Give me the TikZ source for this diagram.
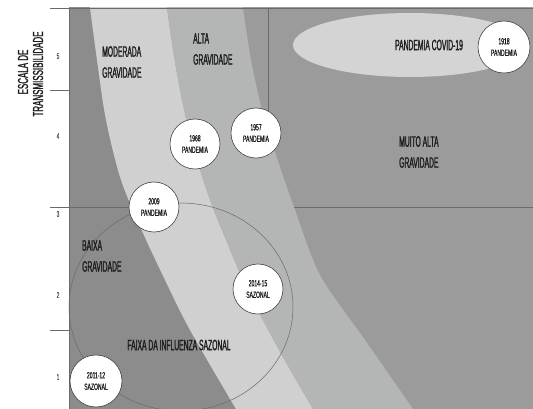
\documentclass[tikz,border=0pt]{standalone}
\usepackage{fontspec}
\newfontfamily\cf[FakeStretch=0.45,FakeBold=1.3]{Liberation Sans}
\newfontfamily\cfa[FakeStretch=0.55,FakeBold=1.2]{Liberation Sans}
\newfontfamily\cfs[FakeStretch=0.56,FakeBold=0.7]{Liberation Sans}
\usetikzlibrary{shapes.geometric}
\definecolor{dk}{HTML}{8C8C8C}
\definecolor{rt}{HTML}{9B9B9B}
\definecolor{lt}{HTML}{D0D0D0}
\definecolor{md}{HTML}{B4B5B5}
\definecolor{cv}{HTML}{D4D4D4}
\definecolor{ln}{HTML}{6A6A6A}
\definecolor{tx}{HTML}{1E1E1E}
\tikzset{
  ev/.style={circle, draw=black!75, line width=0.6pt, fill=white, minimum size=50pt, inner sep=0pt, align=center, text=tx, font=\cfs\fontsize{9}{11.5}\selectfont},
  lab/.style={text=tx, inner sep=0pt, align=left, font=\cf\fontsize{15}{21}\selectfont},
  tick/.style={text=black!65, inner sep=0pt, font=\cfs\fontsize{8.5}{10}\selectfont},
  axl/.style={draw=ln, line width=0.8pt},
}
\begin{document}
\begin{tikzpicture}[x=1pt,y=-1pt]
\useasboundingbox (0,0) rectangle (533,409);
\begin{scope}
\clip (69,8) rectangle (533,409);
\fill[rt] (60,0) rectangle (540,420);
\fill[dk] (60,0) -- plot[smooth] coordinates {(88,0) (90,8) (97,60) (106,120) (121,180) (143,233) (166,282) (190,330) (236,409) (243,420)} -- (60,420) -- cycle;
% grid lines under bands
\draw[ln, line width=0.7pt] (60,207) -- (540,207);
\draw[ln, line width=0.7pt] (268,8) -- (268,207);
\fill[lt] plot[smooth] coordinates {(88,0) (90,8) (97,60) (106,120) (121,180) (143,233) (166,282) (190,330) (236,409) (243,420)}
  -- plot[smooth] coordinates {(321,420) (313,409) (279,350) (247,289) (226,240) (210,200) (194,150) (182,100) (173,50) (167,8) (166,0)} -- cycle;
\fill[md] plot[smooth] coordinates {(166,0) (167,8) (173,50) (182,100) (194,150) (210,200) (226,240) (247,289) (279,350) (313,409) (321,420)}
  -- plot[smooth] coordinates {(421,420) (413,409) (365,340) (320,275) (294,207) (276,155) (262,110) (251,60) (243,8) (242,0)} -- cycle;
\end{scope}
% axes
\draw[axl] (50,8) -- (533,8);
\draw[axl, line width=1pt] (69,8) -- (69,409);
\draw[axl] (50,90) -- (69,90);
\draw[axl] (50,207) -- (69,207);
\draw[axl] (50,330) -- (69,330);
\node[tick] (t5) at (58,56) {5};
\node[tick] (t4) at (58,136) {4};
\node[tick] (t3) at (58,214) {3};
\node[tick] (t2) at (58,295) {2};
\node[tick] (t1) at (58,377) {1};
\node[text=tx, inner sep=0pt, rotate=90, font=\cfa\fontsize{14.5}{15}\selectfont] (ax1) at (23,72) {ESCALA DE};
\node[text=tx, inner sep=0pt, rotate=90, font=\cfa\fontsize{14.5}{15}\selectfont] (ax2) at (38,74) {TRANSMISSIBILIDADE};
% covid ellipse
\node[ellipse, fill=cv, minimum width=234pt, minimum height=64pt, inner sep=0pt] (covid) at (410,45) {};
\node[lab] (covidt) at (429,45) {PANDEMIA COVID-19};
% seasonal ellipse
\node[ellipse, draw=ln, line width=0.5pt, minimum width=224pt, minimum height=208pt, inner sep=0pt] (season) at (181,307) {};
% labels
\node[lab, anchor=west] (mod) at (102,62) {MODERADA\\GRAVIDADE};
\node[lab, anchor=west] (alta) at (193,49) {ALTA\\GRAVIDADE};
\node[lab, anchor=west] (muito) at (399,152) {MUITO ALTA\\GRAVIDADE};
\node[lab, anchor=west] (baixa) at (82,256) {BAIXA\\GRAVIDADE};
\node[lab] (faixa) at (179,345) {FAIXA DA INFLUENZA SAZONAL};
% events
\node[ev] (e1968) at (195,144) {1968\\PANDEMIA};
\node[ev] (e1957) at (256,133) {1957\\PANDEMIA};
\node[ev] (e2009) at (154,207) {2009\\PANDEMIA};
\node[ev] (e2014) at (258,289) {2014-15\\SAZONAL};
\node[ev, minimum size=52pt] (e2011) at (96,381) {2011-12\\SAZONAL};
\node[ev, minimum size=52pt] (e1918) at (504,47) {1918\\PANDEMIA};
\end{tikzpicture}
\end{document}
